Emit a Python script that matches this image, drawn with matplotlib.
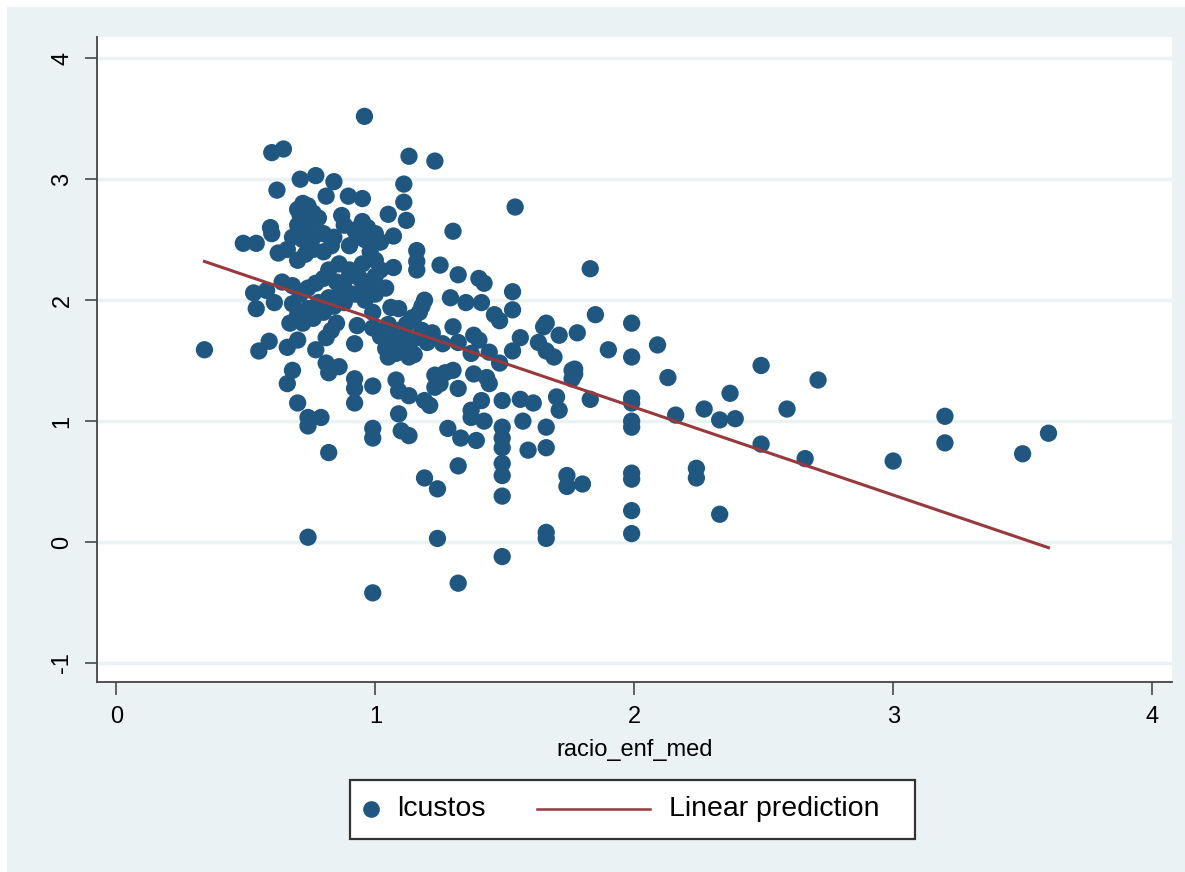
import numpy as np
from matplotlib import pyplot as plt
from matplotlib.patches import Rectangle
from matplotlib.lines import Line2D

plt.rcParams['font.family'] = ['Liberation Sans', 'DejaVu Sans']

# racio_enf_med (x) vs lcustos (y)
racio = [
    0.34, 0.49, 0.54, 0.53, 0.54, 0.55, 0.58, 0.59, 0.61, 0.60, 0.645, 0.595, 0.60, 0.625, 0.62,
    0.66, 0.68, 0.67, 0.72, 0.70, 0.77, 0.81, 0.83, 0.85, 0.92, 0.93, 0.99, 0.99,
    0.81, 0.86, 0.82, 0.68, 0.66, 0.92, 0.92, 0.92, 0.99, 0.70, 0.74, 0.79, 0.74, 0.99, 0.99, 0.82, 1.05,
    1.19, 1.24, 0.74, 1.24, 0.99,
    0.958, 0.71, 0.77, 0.84, 0.896, 0.95, 0.81, 0.87, 0.68, 0.84,
    1.13, 1.23, 1.11, 1.11, 1.12, 1.05, 1.54, 1.30, 1.07, 1.16, 1.16, 1.16, 1.25, 1.07, 1.32, 1.40,
    1.42, 1.53, 1.29, 1.35, 1.41, 1.06, 1.09, 1.19, 1.17, 1.15, 1.46, 1.53, 1.48, 1.66, 1.30,
    1.38, 1.40, 1.56, 1.65, 1.71, 1.78, 1.63, 1.66, 1.69, 1.53, 1.08, 1.13, 1.22, 1.26, 1.32, 1.37,
    1.44, 1.48, 1.76, 1.76, 1.08, 1.09, 1.13, 1.23, 1.27, 1.30, 1.25, 1.23, 1.19, 1.21, 1.32, 1.38,
    1.43, 1.44, 1.41, 1.37, 1.37, 1.42, 1.49, 1.56, 1.61, 1.70, 1.71, 1.57, 1.66, 1.66, 1.59, 1.49,
    1.49, 1.49, 1.49, 1.49, 1.49, 1.09, 1.10, 1.13, 1.28, 1.33, 1.39, 1.32, 1.74, 1.74, 1.80,
    1.32, 1.49, 1.66, 1.66,
    1.83, 1.85, 1.99, 1.90, 1.99, 2.09, 1.77, 1.77, 2.49, 2.13, 1.83, 1.99, 1.99, 1.99, 1.99, 2.16,
    2.27, 2.33, 2.39, 2.37, 2.59, 2.49, 2.66, 1.99, 1.99, 1.99, 1.99, 2.24, 2.24, 2.33,
    2.71, 3.20, 3.20, 3.00, 3.50, 3.60,
    0.70, 0.72, 0.74, 0.71, 0.73, 0.76, 0.78, 0.75, 0.70, 0.72, 0.76, 0.80, 0.83, 0.80, 0.76, 0.73,
    0.70, 0.66,
    0.88, 0.92, 0.95, 0.97, 0.93, 0.96, 1.00, 1.02, 0.90, 0.98, 1.00, 0.95, 0.90, 0.86, 0.82, 0.80,
    0.77, 0.74, 0.71, 0.68, 0.64, 0.85, 0.88, 0.92, 0.96, 1.00, 1.02, 0.98, 0.94, 0.90, 0.86, 0.82,
    0.78, 0.74, 0.70, 0.76, 0.80, 0.84, 0.88, 0.96, 1.00, 1.04,
    1.05, 1.08, 1.10, 1.06, 1.04, 1.12, 1.15, 1.12, 1.18, 1.20, 1.15, 1.02, 1.14, 1.18,
]
lcustos = [
    1.59, 2.47, 2.47, 2.06, 1.93, 1.58, 2.08, 1.66, 1.98, 3.22, 3.25, 2.60, 2.55, 2.39, 2.91,
    1.61, 1.97, 1.81, 1.81, 1.67, 1.59, 1.69, 1.75, 1.81, 1.64, 1.79, 1.77, 1.90,
    1.48, 1.45, 1.40, 1.42, 1.31, 1.35, 1.27, 1.15, 1.29, 1.15, 1.03, 1.03, 0.96, 0.94, 0.86, 0.74, 1.53,
    0.53, 0.44, 0.04, 0.03, -0.42,
    3.52, 3.00, 3.03, 2.98, 2.86, 2.84, 2.86, 2.70, 2.52, 2.52,
    3.19, 3.15, 2.96, 2.81, 2.66, 2.71, 2.77, 2.57, 2.53, 2.41, 2.32, 2.25, 2.29, 2.27, 2.21, 2.18,
    2.14, 2.07, 2.02, 1.98, 1.98, 1.94, 1.93, 2.00, 1.90, 1.86, 1.88, 1.92, 1.83, 1.81, 1.78,
    1.71, 1.67, 1.69, 1.78, 1.71, 1.73, 1.65, 1.58, 1.53, 1.58, 1.56, 1.53, 1.73, 1.64, 1.65, 1.56,
    1.57, 1.48, 1.42, 1.35, 1.34, 1.25, 1.21, 1.38, 1.40, 1.42, 1.31, 1.28, 1.17, 1.13, 1.27, 1.39,
    1.36, 1.31, 1.17, 1.09, 1.03, 1.00, 1.17, 1.18, 1.15, 1.20, 1.09, 1.00, 0.95, 0.78, 0.76, 0.95,
    0.86, 0.78, 0.65, 0.55, 0.38, 1.06, 0.92, 0.88, 0.94, 0.86, 0.84, 0.63, 0.55, 0.46, 0.48,
    -0.34, -0.12, 0.08, 0.03,
    2.26, 1.88, 1.81, 1.59, 1.53, 1.63, 1.43, 1.39, 1.46, 1.36, 1.18, 1.19, 1.15, 1.00, 0.95, 1.05,
    1.10, 1.01, 1.02, 1.23, 1.10, 0.81, 0.69, 0.57, 0.52, 0.26, 0.07, 0.61, 0.53, 0.23,
    1.34, 1.04, 0.82, 0.67, 0.73, 0.90,
    2.75, 2.80, 2.78, 2.70, 2.65, 2.72, 2.68, 2.60, 2.62, 2.50, 2.52, 2.55, 2.45, 2.40, 2.42, 2.38,
    2.33, 2.42,
    2.62, 2.58, 2.65, 2.60, 2.52, 2.50, 2.55, 2.48, 2.45, 2.40, 2.33, 2.30, 2.25, 2.30, 2.25, 2.18,
    2.14, 2.10, 2.05, 2.12, 2.15, 2.15, 2.10, 2.05, 2.10, 2.20, 2.25, 2.15, 2.18, 2.20, 2.05, 2.02,
    1.98, 1.93, 1.88, 1.85, 1.90, 1.95, 1.98, 2.00, 2.05, 2.10,
    1.80, 1.75, 1.70, 1.65, 1.60, 1.62, 1.68, 1.80, 1.75, 1.65, 1.55, 1.70, 1.85, 1.95,
]

# fitted line
fit_intercept = 2.567
fit_slope = -0.726

x_ticks = [0, 1, 2, 3, 4]
y_ticks = [-1, 0, 1, 2, 3, 4]

bg = '#eaf2f3'
navy = '#1f5780'
maroon = '#97393d'

W, H = 1185, 872


def fx(px):
    return px / W


def fy(py):
    return 1 - py / H


fig = plt.figure(figsize=(W / 100, H / 100), dpi=100, facecolor='white')
fig.patches.append(Rectangle((fx(7), 0), 1, fy(7), transform=fig.transFigure,
                             facecolor=bg, edgecolor='none', zorder=-10))

ax = fig.add_axes([fx(97), fy(682), fx(1075), 645 / H])
ax.set_facecolor('white')

ax.scatter(racio, lcustos, s=155, color=navy, edgecolors='none', zorder=3)

xs = np.array([min(racio), max(racio)])
ax.plot(xs, fit_intercept + fit_slope * xs, color=maroon, lw=2.2, zorder=4)

ax.set_xlim(-0.075, 4.077)
ax.set_ylim(-1.157, 4.176)
ax.set_xticks(x_ticks)
ax.set_yticks(y_ticks)
ax.set_yticklabels([str(t) for t in y_ticks], rotation=90, va='center')
ax.yaxis.grid(True, color=bg, lw=2.5)
ax.set_axisbelow(True)

for side in ['top', 'right']:
    ax.spines[side].set_visible(False)
for side in ['left', 'bottom']:
    ax.spines[side].set_color('#444444')
    ax.spines[side].set_linewidth(1.3)
ax.tick_params(direction='out', length=9, width=1.3, color='#555555',
               labelsize=17, pad=8)

ax.set_xlabel('racio_enf_med', fontsize=17, labelpad=8)

# legend box drawn by hand (Stata-style layout: marker on the left of its key)
fig.patches.append(Rectangle((fx(350), fy(839)), fx(565), 59 / H, transform=fig.transFigure,
                             facecolor='white', edgecolor='#333333', lw=1.6, zorder=5))
ly = fy(809)
fig.add_artist(Line2D([fx(371)], [ly], marker='o', ms=12, color=navy, mec='none',
                      transform=fig.transFigure, zorder=6))
fig.text(fx(397), ly, 'lcustos', fontsize=20.5, va='center', ha='left', zorder=6)
fig.add_artist(Line2D([fx(537), fx(650)], [ly, ly], color=maroon, lw=1.8,
                      transform=fig.transFigure, zorder=6))
fig.text(fx(669), ly, 'Linear prediction', fontsize=20.5, va='center', ha='left', zorder=6)

fig.savefig('out.png', dpi=100, facecolor=fig.get_facecolor())
